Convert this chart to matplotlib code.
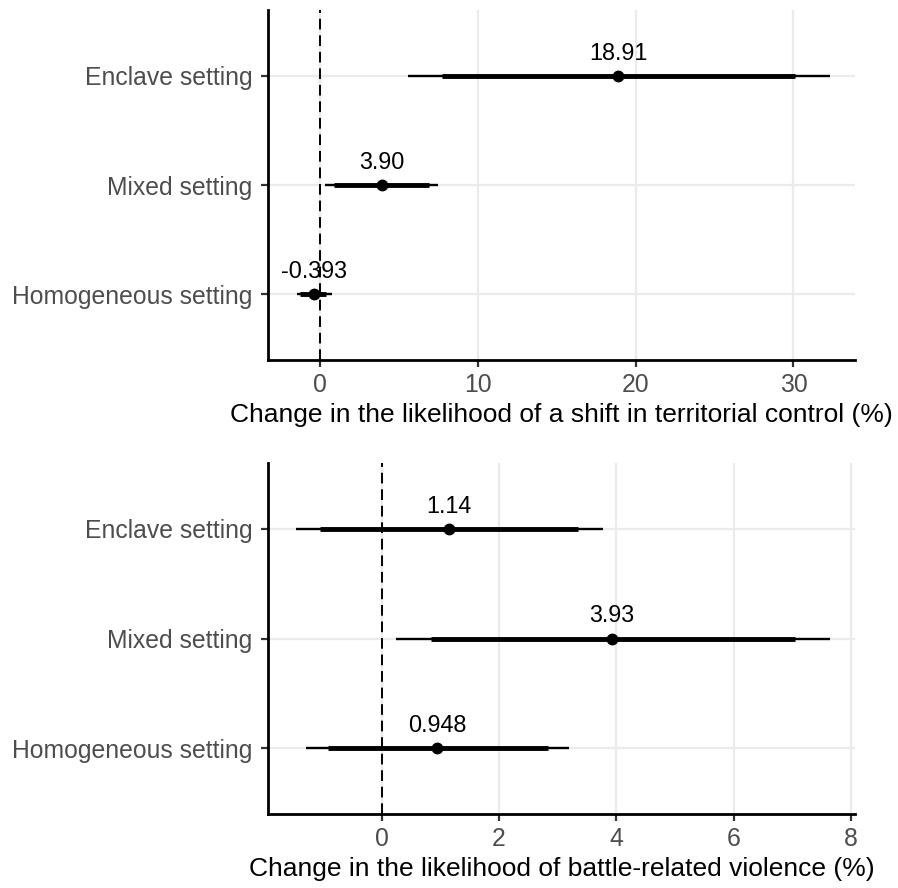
import matplotlib
matplotlib.use("Agg")
import matplotlib.pyplot as plt
import numpy as np

plt.rcParams["font.family"] = ["Liberation Sans", "DejaVu Sans"]

# Settings, bottom to top on the y axis
settings = ["Homogeneous setting", "Mixed setting", "Enclave setting"]

# Panel 1: shift in territorial control (%)
terr_est = [-0.393, 3.90, 18.91]
terr_labels = ["-0.393", "3.90", "18.91"]
terr_lo95 = [-1.45, 0.30, 5.6]
terr_hi95 = [0.76, 7.5, 32.3]
terr_lo90 = [-1.26, 0.87, 7.7]
terr_hi90 = [0.38, 6.9, 30.1]

# Panel 2: battle-related violence (%)
battle_est = [0.948, 3.93, 1.14]
battle_labels = ["0.948", "3.93", "1.14"]
battle_lo95 = [-1.29, 0.25, -1.47]
battle_hi95 = [3.20, 7.64, 3.77]
battle_lo90 = [-0.91, 0.84, -1.05]
battle_hi90 = [2.84, 7.04, 3.34]

GRID = "#EBEBEB"
TXT = "#4D4D4D"


def coef_panel(ax, est, labels, lo95, hi95, lo90, hi90, xlim, xticks, xlabel):
    y = np.arange(len(settings))
    ax.set_xlim(*xlim)
    ax.set_ylim(-0.6, len(settings) - 0.4)
    ax.set_xticks(xticks)
    ax.set_yticks(y)
    ax.set_yticklabels(settings)
    ax.grid(True, color=GRID, linewidth=1.6)
    ax.set_axisbelow(True)
    for side in ["top", "right"]:
        ax.spines[side].set_visible(False)
    for side in ["left", "bottom"]:
        ax.spines[side].set_linewidth(2.0)
    ax.tick_params(axis="both", length=5, width=1.6, color="#333333",
                   labelsize=17.8, labelcolor=TXT, pad=4)
    ax.tick_params(axis="y", pad=6)
    ax.axvline(0, color="black", linestyle=(0, (5.5, 3)), linewidth=1.4, zorder=2)
    ax.hlines(y, lo95, hi95, color="black", linewidth=1.7, zorder=3)
    ax.hlines(y, lo90, hi90, color="black", linewidth=3.5, zorder=3)
    ax.plot(est, y, "o", color="black", markersize=7.5, zorder=4)
    for xi, yi, lab in zip(est, y, labels):
        ax.annotate(lab, (xi, yi), xytext=(0, 8), textcoords="offset points",
                    ha="center", va="bottom", fontsize=16.8, color="black")
    ax.set_xlabel(xlabel, fontsize=19, color="black", labelpad=5)


fig = plt.figure(figsize=(8.98, 8.88), dpi=100)
ax1 = fig.add_axes([268 / 898, 1 - 360 / 888, 587 / 898, 350 / 888])
ax2 = fig.add_axes([268 / 898, 1 - 814 / 888, 587 / 898, 351 / 888])

coef_panel(ax1, terr_est, terr_labels, terr_lo95, terr_hi95, terr_lo90, terr_hi90,
           (-3.3, 33.9), [0, 10, 20, 30],
           "Change in the likelihood of a shift in territorial control (%)")
coef_panel(ax2, battle_est, battle_labels, battle_lo95, battle_hi95, battle_lo90, battle_hi90,
           (-1.94, 8.07), [0, 2, 4, 6, 8],
           "Change in the likelihood of battle-related violence (%)")

fig.savefig("out.png", dpi=100, facecolor="white")
